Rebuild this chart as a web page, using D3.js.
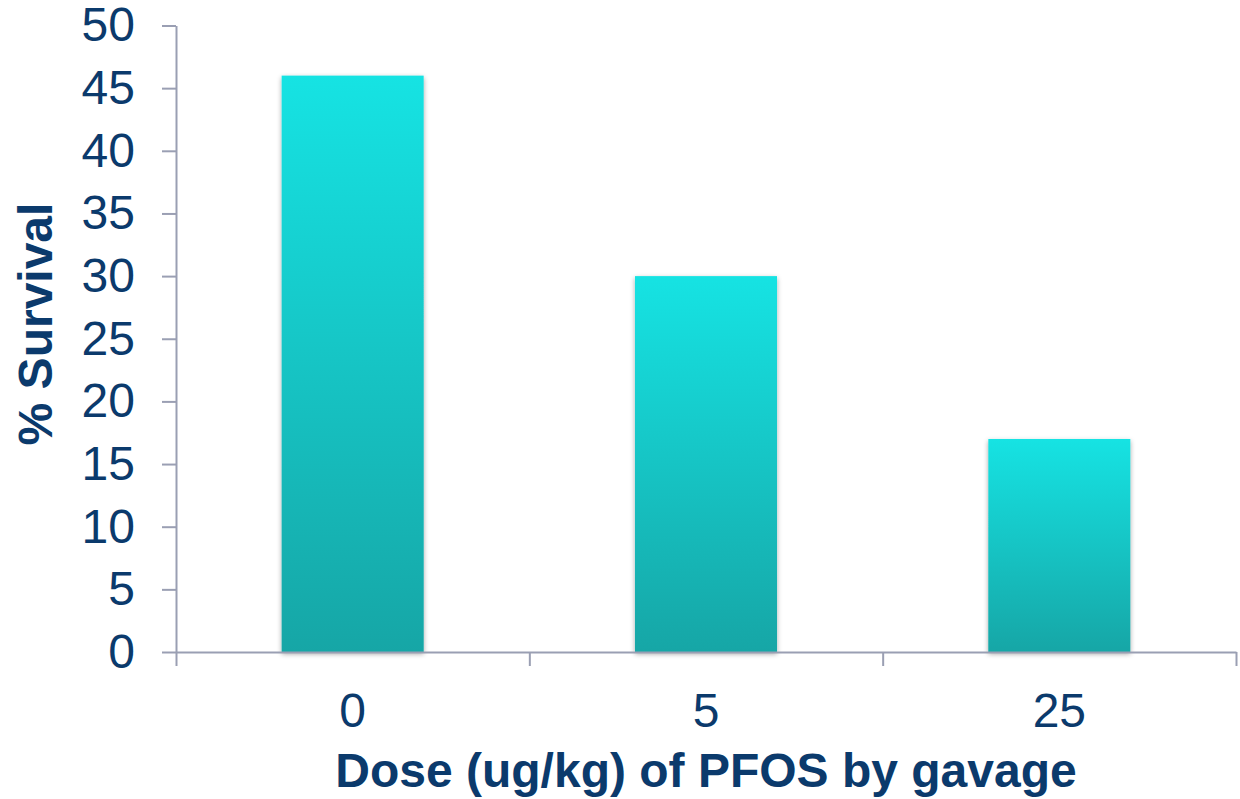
<!DOCTYPE html>
<html>
<head>
<meta charset="utf-8">
<script src="https://cdn.jsdelivr.net/npm/d3@7"></script>
<style>
  html, body { margin: 0; padding: 0; background: #ffffff; }
  svg { display: block; }
  text { font-family: "Liberation Sans", Arial, Helvetica, sans-serif; fill: #0b3a6c; }
</style>
</head>
<body>
<svg id="chart" width="1240" height="799"></svg>
<script>
// Survival by PFOS dose
const doses = ["0", "5", "25"];
const survival = [46, 30, 17];
const yTicks = [0, 5, 10, 15, 20, 25, 30, 35, 40, 45, 50];

const xTitle = "Dose (ug/kg) of PFOS by gavage";
const yTitle = "% Survival";

const svg = d3.select("#chart");
const plotLeft = 176, plotRight = 1236, plotTop = 25.5, plotBottom = 652;
const axisColor = "#9a9fb3";
const textColor = "#0b3a6c";
const titleColor = "#08346a";

const x = d3.scaleBand()
  .domain(doses)
  .range([plotLeft, plotRight])
  .paddingInner(0.598)
  .paddingOuter(0.299);

const y = d3.scaleLinear().domain([0, 50]).range([plotBottom, plotTop]);

// category boundaries for the x-axis tick marks
const edges = d3.scaleLinear().domain([0, doses.length]).range([plotLeft, plotRight]);

const defs = svg.append("defs");
const grad = defs.append("linearGradient")
  .attr("id", "barFill")
  .attr("x1", 0).attr("y1", 0).attr("x2", 0).attr("y2", 1);
grad.append("stop").attr("offset", "0%").attr("stop-color", "#19e3e3");
grad.append("stop").attr("offset", "100%").attr("stop-color", "#12a6a6");

const shadow = defs.append("filter")
  .attr("id", "barShadow")
  .attr("x", "-10%").attr("y", "-10%").attr("width", "120%").attr("height", "120%");
shadow.append("feDropShadow")
  .attr("dx", 0).attr("dy", 2)
  .attr("stdDeviation", 2.5)
  .attr("flood-color", "#000000")
  .attr("flood-opacity", 0.35);

// bars
svg.append("g")
  .selectAll("rect")
  .data(survival)
  .join("rect")
  .attr("x", (d, i) => x(doses[i]))
  .attr("y", d => y(d))
  .attr("width", x.bandwidth())
  .attr("height", d => y(0) - y(d))
  .attr("fill", "url(#barFill)")
  .attr("filter", "url(#barShadow)");

// y axis
const yAxis = svg.append("g")
  .attr("transform", `translate(${plotLeft},0)`)
  .call(d3.axisLeft(y).tickValues(yTicks).tickSize(14).tickPadding(27).tickSizeOuter(0));
yAxis.select(".domain").attr("stroke", axisColor).attr("stroke-width", 2);
yAxis.selectAll(".tick line").attr("stroke", axisColor).attr("stroke-width", 2);
yAxis.selectAll(".tick text")
  .attr("fill", textColor)
  .style("font-size", "48px");

// x axis: boundary ticks
const xEdges = svg.append("g")
  .attr("transform", `translate(0,${plotBottom})`)
  .call(d3.axisBottom(edges).tickValues(d3.range(doses.length + 1)).tickSize(14).tickSizeOuter(0).tickFormat(""));
xEdges.select(".domain").attr("stroke", axisColor).attr("stroke-width", 2);
xEdges.selectAll(".tick line").attr("stroke", axisColor).attr("stroke-width", 2);

// x axis: category labels
const xLabels = svg.append("g")
  .attr("transform", `translate(0,${plotBottom})`)
  .call(d3.axisBottom(x).tickSize(0).tickPadding(41));
xLabels.select(".domain").remove();
xLabels.selectAll(".tick text")
  .attr("fill", textColor)
  .style("font-size", "48px");

// titles
svg.append("text")
  .attr("x", (plotLeft + plotRight) / 2)
  .attr("y", 787)
  .attr("text-anchor", "middle")
  .attr("fill", titleColor)
  .style("font-size", "48px")
  .style("font-weight", "bold")
  .text(xTitle);

svg.append("text")
  .attr("transform", "translate(52,324) rotate(-90)")
  .attr("text-anchor", "middle")
  .attr("fill", titleColor)
  .style("font-size", "48px")
  .style("font-weight", "bold")
  .text(yTitle);
</script>
</body>
</html>
